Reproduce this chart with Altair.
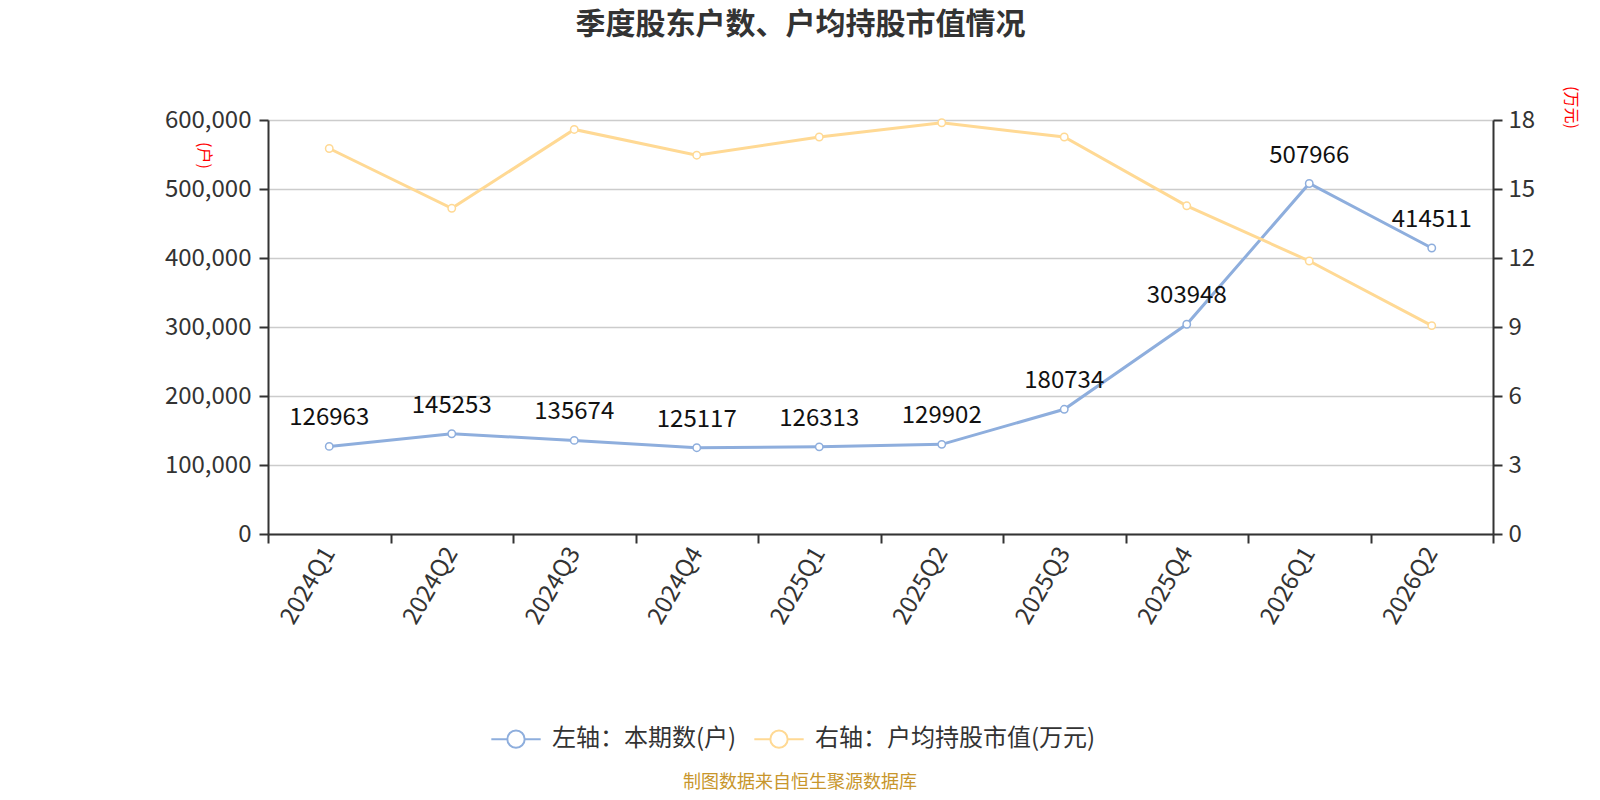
import altair as alt
import pandas as pd

quarters = ["2024Q1", "2024Q2", "2024Q3", "2024Q4", "2025Q1", "2025Q2",
            "2025Q3", "2025Q4", "2026Q1", "2026Q2"]
holders = [126963, 145253, 135674, 125117, 126313, 129902, 180734, 303948, 507966, 414511]
avg_value = [16.76, 14.16, 17.59, 16.47, 17.26, 17.88, 17.26, 14.27, 11.87, 9.06]

s1 = "左轴：本期数(户)"
s2 = "右轴：户均持股市值(万元)"
blue = "#8eaedd"
yellow = "#ffd994"
font = "Noto Sans CJK SC"

df1 = pd.DataFrame({"q": quarters, "v": holders, "s": s1})
df2 = pd.DataFrame({"q": quarters, "v": avg_value, "s": s2})

xenc = alt.X("q:N", sort=quarters, bandPosition=0.5,
             scale=alt.Scale(type="band", paddingInner=0, paddingOuter=0),
             axis=alt.Axis(title=None, labelAngle=-60, tickBand="extent", labelFontSize=24,
                           labelColor="#333", domainColor="#333", tickColor="#333",
                           tickSize=9, domainWidth=2, tickWidth=2, labelPadding=6,
                           grid=False, labelFont=font))

color = alt.Color("s:N", scale=alt.Scale(domain=[s1, s2], range=[blue, yellow]),
                  legend=alt.Legend(title=None, orient="none", direction="horizontal",
                                    legendX=236, legendY=607, labelFontSize=24,
                                    labelColor="#333", labelFont=font, labelLimit=600,
                                    symbolType="M-2.85,0L-1,0M1,0L2.85,0M-1,0A1,1 0 1,0 1,0A1,1 0 1,0 -1,0",
                                    symbolSize=300, symbolStrokeWidth=2,
                                    symbolFillColor="white", labelOffset=24,
                                    columnPadding=13))

yscale_left = alt.Scale(domain=[0, 600000], nice=False)
yleft = alt.Y("v:Q", scale=yscale_left,
              axis=alt.Axis(title="(户)", titleAngle=90, titleX=-73, titleY=35,
                            titleColor="#ff0000", titleFontSize=16, titleFontWeight="normal",
                            titleFont=font, values=[0, 100000, 200000, 300000, 400000, 500000, 600000],
                            format=",.0f", labelFontSize=24,
                            labelColor="#333", labelFont=font,
                            domainColor="#333", tickColor="#333", tickSize=9, domainWidth=2,
                            tickWidth=2, grid=True, gridColor="#cccccc", gridWidth=1.3,
                            labelPadding=8))

line1 = alt.Chart(df1).mark_line(
    strokeWidth=3,
    point=alt.OverlayMarkDef(filled=False, fill="white", size=55, strokeWidth=1.5)
).encode(x=xenc, y=yleft, color=color)

text1 = alt.Chart(df1).mark_text(fontSize=24, dy=-21, baseline="alphabetic",
                                 color="#111", font=font).encode(
    x=xenc, y=yleft, text=alt.Text("v:Q", format="d"))

left = alt.layer(line1, text1)

yright = alt.Y("v:Q", scale=alt.Scale(domain=[0, 18], nice=False),
               axis=alt.Axis(orient="right", title="(万元)", titleAngle=90, titleX=69, titleY=-13,
                             titleColor="#ff0000", titleFontSize=16, titleFontWeight="normal",
                             titleFont=font, values=[0, 3, 6, 9, 12, 15, 18],
                             labelFontSize=24, labelColor="#333", labelFont=font,
                             domainColor="#333", tickColor="#333", tickSize=9, domainWidth=2,
                             tickWidth=2, grid=False, labelPadding=6))

line2 = alt.Chart(df2).mark_line(
    strokeWidth=3,
    point=alt.OverlayMarkDef(filled=False, fill="white", size=55, strokeWidth=1.5)
).encode(x=xenc, y=yright, color=color)

footer = alt.Chart(pd.DataFrame({"t": ["制图数据来自恒生聚源数据库"]})).mark_text(
    fontSize=18, color="#c8962c", font=font, baseline="middle", align="center"
).encode(text="t:N", x=alt.value(532), y=alt.value(663))

chart = alt.layer(left, line2, footer).resolve_scale(y="independent").properties(
    width=1225, height=414,
    autosize=alt.AutoSizeParams(type="none"),
    padding={"left": 260, "top": 112, "right": 99, "bottom": 258},
    title=alt.TitleParams("季度股东户数、户均持股市值情况", fontSize=30, fontWeight="bold",
                          color="#333", anchor="middle", dx=-80, font=font, offset=46),
).configure_view(stroke=None).configure(background="white")

chart.save("out.html", embed_options={"renderer": "svg", "actions": False})
